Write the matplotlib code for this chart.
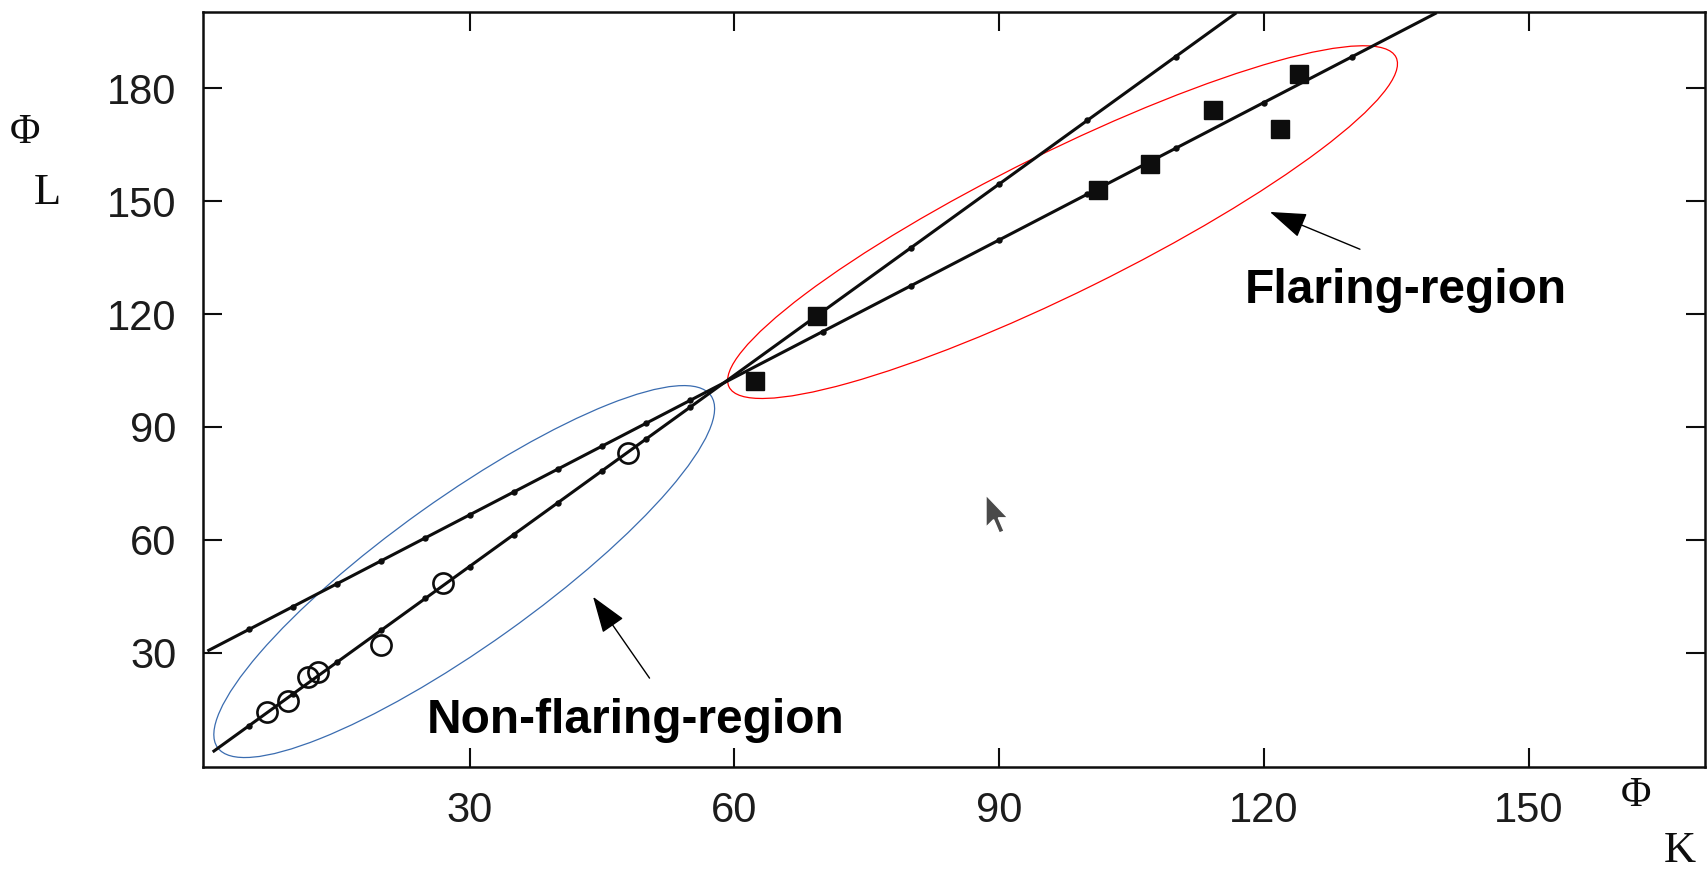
import numpy as np
import matplotlib
matplotlib.use("Agg")
import matplotlib.pyplot as plt
from matplotlib.patches import Ellipse, Polygon
from matplotlib.transforms import ScaledTranslation, IdentityTransform

# non-flaring sample (open circles)
nf_x = [7.0, 9.4, 11.7, 12.8, 20.0, 27.0, 48.0]
nf_y = [14.4, 17.1, 23.7, 25.0, 32.1, 48.5, 83.0]

# flaring sample (filled squares)
fl_x = [62.3, 69.4, 101.2, 107.1, 114.2, 121.8, 124.0]
fl_y = [102.3, 119.5, 152.9, 159.8, 174.1, 169.2, 183.7]

# the two straight reference lines (end points)
steep_x = [0.9, 116.9]
steep_y = [3.7, 200.0]
flat_x = [0.3, 139.6]
flat_y = [30.5, 200.0]

# small tick dots drawn along the lines
dot_x = [5, 10, 15, 20, 25, 30, 35, 40, 45, 50, 55, 70, 80, 90, 100, 110, 120, 130]

ticks = [30, 60, 90, 120, 150]
ytick_vals = [30, 60, 90, 120, 150, 180]

W, H = 1708, 869
fig = plt.figure(figsize=(W / 100, H / 100), dpi=100)
ax = fig.add_axes([203 / W, 1 - 767 / H, (1705 - 203) / W, (767 - 12) / H])
ax.set_xlim(-0.2, 170)
ax.set_ylim(-0.3, 200.2)

ink = "#0d0d0d"
ax.plot(steep_x, steep_y, color=ink, lw=2.2, solid_capstyle="butt")
ax.plot(flat_x, flat_y, color=ink, lw=2.2, solid_capstyle="butt")

sx = [x for x in dot_x if x <= steep_x[1]]
fx = [x for x in dot_x if x <= flat_x[1]]
ax.plot(sx, np.interp(sx, steep_x, steep_y), "o", color=ink, ms=3.6, ls="none")
ax.plot(fx, np.interp(fx, flat_x, flat_y), "o", color=ink, ms=3.6, ls="none")

ax.plot(nf_x, nf_y, "o", mfc="none", mec=ink, mew=1.9, ms=14.5, ls="none")
ax.plot(fl_x, fl_y, "s", color=ink, ms=13, ls="none")

# frame and ticks
for s in ax.spines.values():
    s.set_linewidth(1.8)
    s.set_color(ink)
ax.set_xticks(ticks)
ax.set_yticks(ytick_vals)
ax.tick_params(direction="in", length=14, width=1.5, color=ink,
               top=True, right=True, labelsize=30, labelcolor="#1c1c1c")
ax.tick_params(axis="y", pad=19)
ax.tick_params(axis="x", pad=17)
for lab in ax.get_xticklabels() + ax.get_yticklabels():
    lab.set_fontfamily("Liberation Sans")

# axis symbols
serif = "Liberation Serif"
fig.text(25 / W, 1 - 133 / H, "Φ", family=serif, fontsize=30, ha="center", va="center", color=ink)
fig.text(47 / W, 1 - 193 / H, "L", family=serif, fontsize=32, ha="center", va="center", color=ink)
fig.text(1636 / W, 1 - 796 / H, "Φ", family=serif, fontsize=30, ha="center", va="center", color=ink)
fig.text(1680 / W, 1 - 851 / H, "K", family=serif, fontsize=32, ha="center", va="center", color=ink)

# region outlines, sized in inches around a data-space centre
def region(cx, cy, w, h, angle, color):
    tr = fig.dpi_scale_trans + ScaledTranslation(cx, cy, ax.transData)
    e = Ellipse((0, 0), w, h, angle=angle, transform=tr, fill=False,
                edgecolor=color, lw=0.9, clip_on=False)
    ax.add_patch(e)

region(29.4, 51.6, 6.06, 1.48, 35.5, "#3a6cb0")
region(97.2, 144.4, 7.44, 1.40, 26.3, "#ff0000")

arrow = dict(arrowstyle="-|>,head_length=2.3,head_width=0.8", mutation_scale=10,
             color="black", lw=1.0, shrinkA=0, shrinkB=0)
ax.annotate("", xy=(44.0, 44.9), xytext=(50.4, 23.3), arrowprops=arrow)
ax.annotate("", xy=(120.7, 147.1), xytext=(130.9, 137.2), arrowprops=arrow)

ax.text(25.2, 8.8, "Non-flaring-region", family="Liberation Sans", weight="bold",
        fontsize=34.5, ha="left", va="baseline", color="black")
ax.text(117.8, 122.9, "Flaring-region", family="Liberation Sans", weight="bold",
        fontsize=34.5, ha="left", va="baseline", color="black")

# mouse pointer left on the page
ptr = np.array([[0, 0], [0, 17], [4, 13], [7, 20], [9.5, 19], [6.5, 12], [11.5, 12]]) * 1.9
ptr[:, 0] += 986
ptr[:, 1] = H - (495 + ptr[:, 1])
fig.add_artist(Polygon(ptr, closed=True, transform=IdentityTransform(),
                       facecolor="#4a4a4a", edgecolor="white", lw=1.0))

fig.savefig("out.png", dpi=100, facecolor="white")
